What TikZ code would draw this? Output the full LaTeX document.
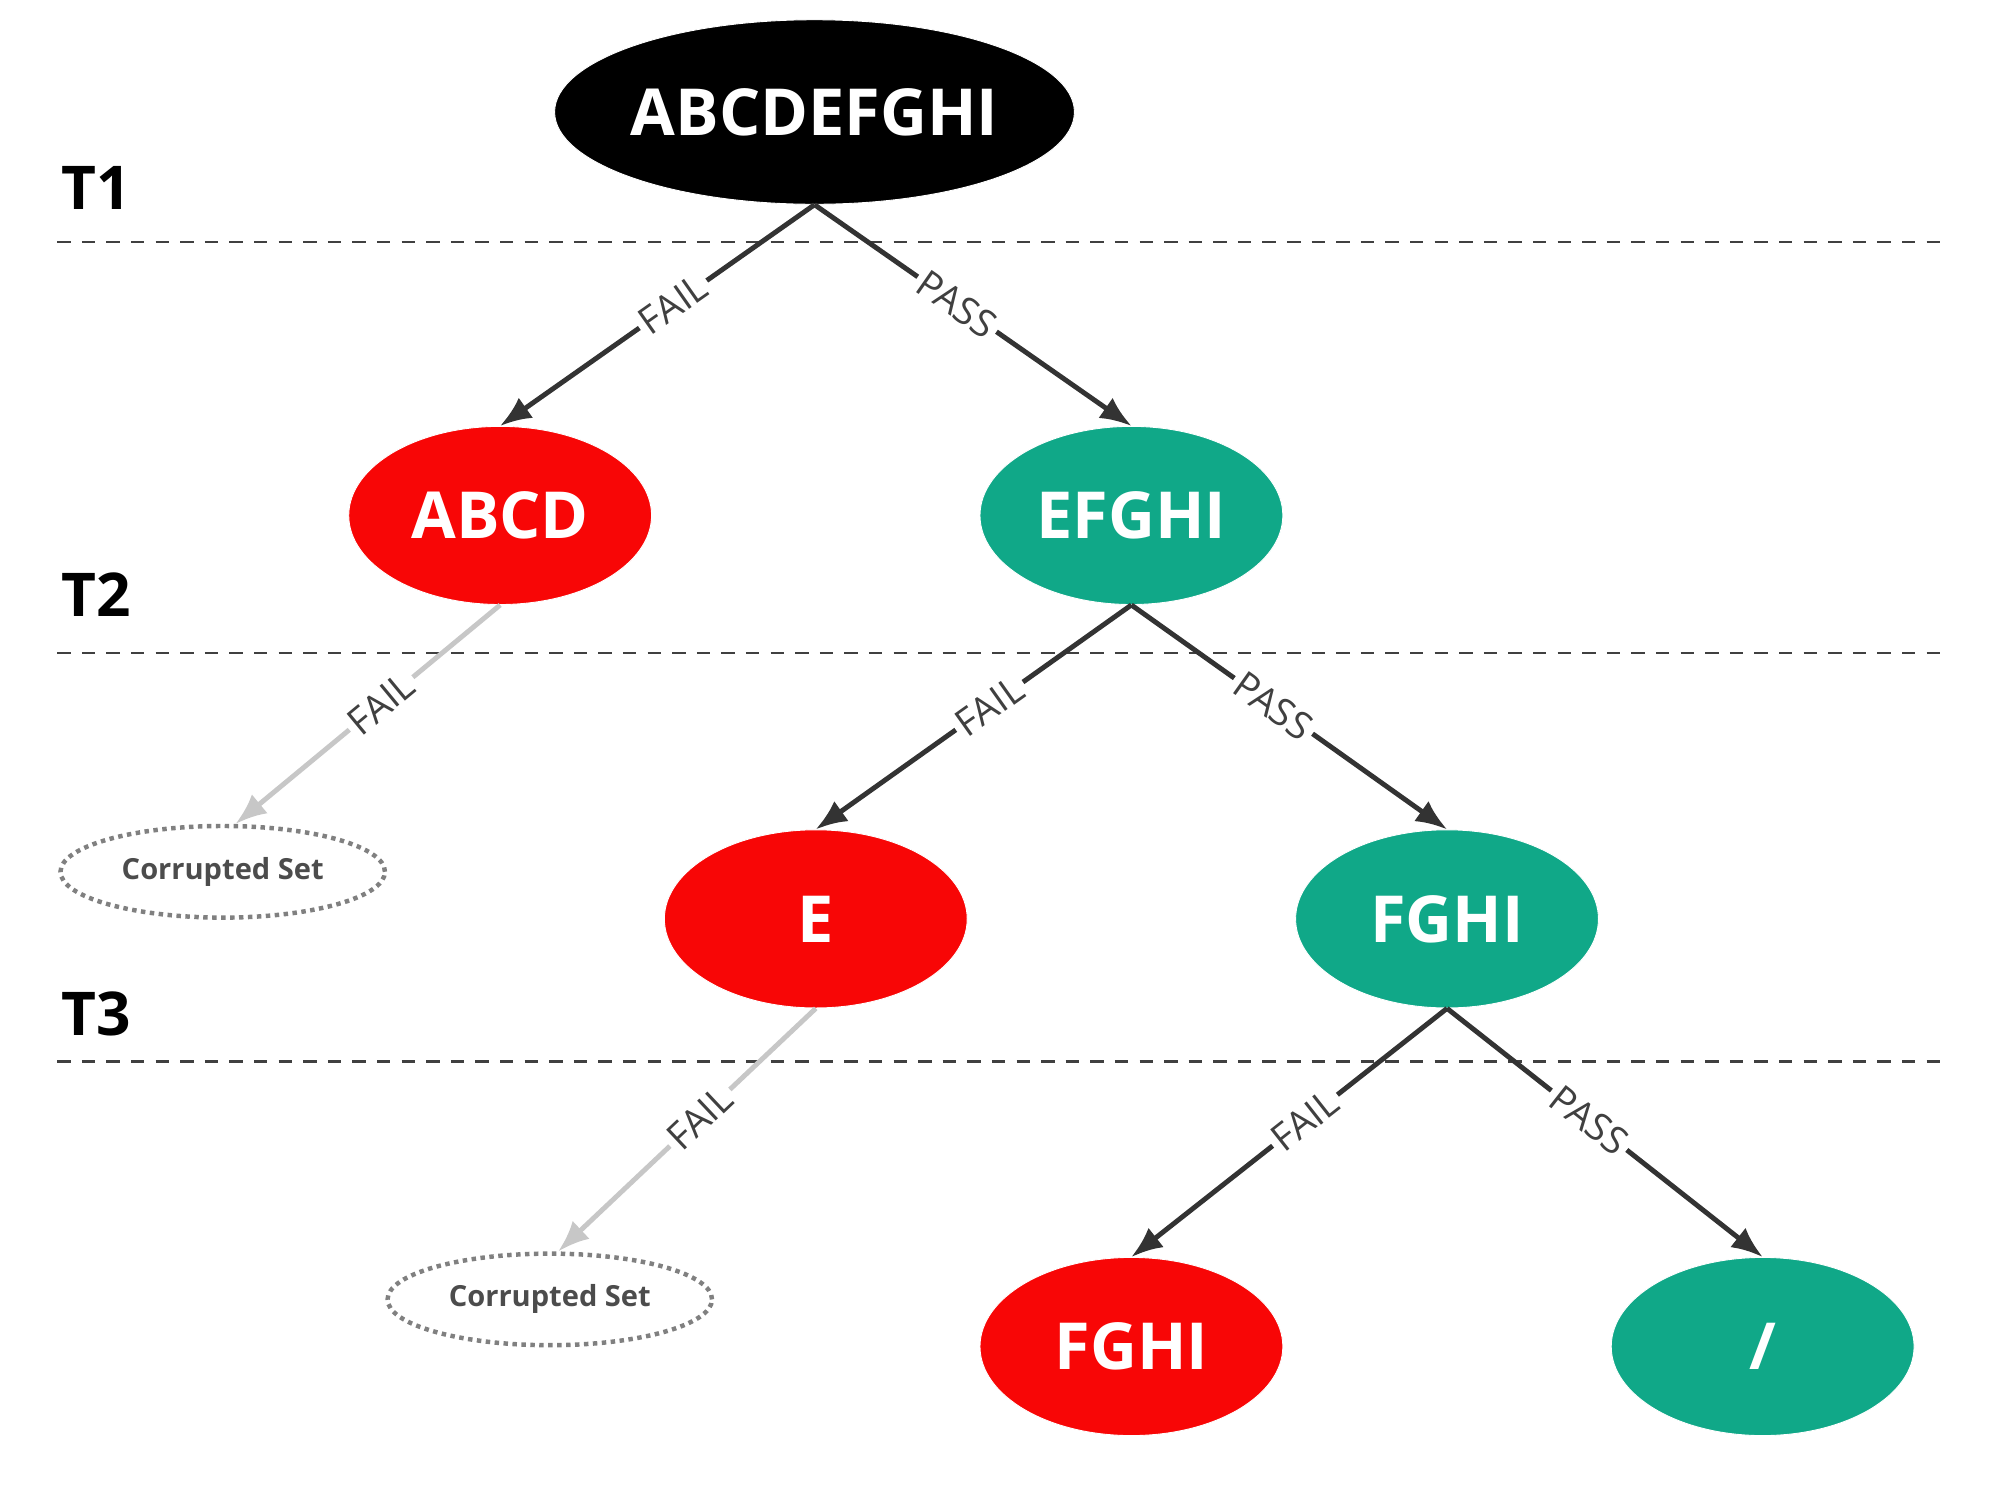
\documentclass[tikz,border=0pt]{standalone}
\usepackage{fontspec}
\setmainfont{Open Sans}
\usetikzlibrary{arrows.meta,shapes.geometric}
\definecolor{failred}{HTML}{F80606}
\definecolor{passgreen}{HTML}{10A888}
\definecolor{edgedark}{HTML}{333333}

\tikzset{
  set/.style={ellipse, minimum width=4.76cm, minimum height=2.8cm, draw=white,
              text=white, font=\fontsize{29}{32}\selectfont\bfseries},
  fail/.style={set, fill=failred},
  pass/.style={set, fill=passgreen},
  corrupt/.style={ellipse, minimum width=5.1cm, minimum height=1.44cm, draw=gray,
              dash pattern=on 2pt off 2pt, line width=2pt, text=black!70,
              font=\fontsize{13}{15}\selectfont\bfseries},
  branch/.style={-{Latex[length=14pt,width=11pt]}, edgedark, line width=2.2pt},
  dead/.style={-{Latex[length=14pt,width=11pt]}, black!22, line width=2.2pt},
  lbl/.style={sloped, fill=white, inner sep=2pt, text=black!75, pos=0.45,
              font=\fontsize{17}{19}\selectfont},
  level/.style={font=\fontsize{27}{30}\selectfont\bfseries, anchor=west},
  sep/.style={black!75, line width=1pt, dash pattern=on 6pt off 5pt}
}

\begin{document}
\begin{tikzpicture}[x=0.02cm, y=-0.02cm]
    \useasboundingbox (0,0) rectangle (1566,1178);

    % level separators
    \draw[sep] (45,190) -- (1530,190);
    \draw[sep] (45,513) -- (1530,513);
    \draw[sep] (45,834) -- (1530,834);
    \node[level] (t1) at (42,148) {T1};
    \node[level] (t2) at (42,467) {T2};
    \node[level] (t3) at (42,797) {T3};

    \node[set, fill=black, inner xsep=0pt, minimum width=7.3cm, minimum height=2.9cm] (all) at (640,88) {ABCDEFGHI};
    \node[fail]    (abcd)  at (393,405)  {ABCD};
    \node[pass]    (efghi) at (889,405)  {EFGHI};
    \node[corrupt] (c1)    at (175,685)  {Corrupted Set};
    \node[fail]    (e)     at (641,722)  {E};
    \node[pass]    (fghi)  at (1137,722) {FGHI};
    \node[corrupt] (c2)    at (432,1021) {Corrupted Set};
    \node[fail]    (fghir) at (889,1058) {FGHI};
    \node[pass]    (none)  at (1385,1058) {/};

    \draw[branch] (all.south)   -- node[lbl] {FAIL} (abcd.north);
    \draw[branch] (all.south)   -- node[lbl] {PASS} (efghi.north);
    \draw[dead]   (abcd.south)  -- node[lbl] {FAIL} (c1.75);
    \draw[branch] (efghi.south) -- node[lbl] {FAIL} (e.north);
    \draw[branch] (efghi.south) -- node[lbl] {PASS} (fghi.north);
    \draw[dead]   (e.south)     -- node[lbl] {FAIL} (c2.80);
    \draw[branch] (fghi.south)  -- node[lbl] {FAIL} (fghir.north);
    \draw[branch] (fghi.south)  -- node[lbl] {PASS} (none.north);
\end{tikzpicture}
\end{document}
